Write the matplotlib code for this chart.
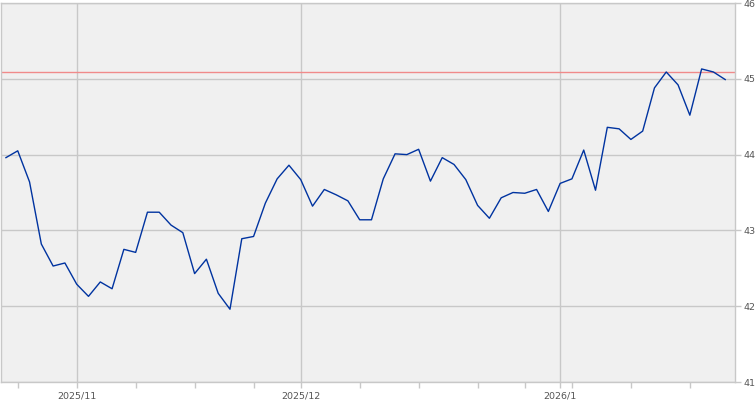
import matplotlib
matplotlib.use("Agg")
import matplotlib.pyplot as plt
import numpy as np
import pandas as pd

# trading days (US calendar) shown on the chart
holidays = ["2025-11-27", "2025-12-25", "2026-01-01", "2026-01-19"]
dates = pd.bdate_range("2025-10-24", "2026-01-23")
dates = dates[~dates.isin(pd.to_datetime(holidays))]

prices = [
    43.96, 44.05, 43.64, 42.82, 42.53, 42.57, 42.29, 42.13, 42.32, 42.23,
    42.75, 42.71, 43.24, 43.24, 43.07, 42.97, 42.43, 42.62, 42.17, 41.96,
    42.89, 42.92, 43.36, 43.68, 43.86, 43.67, 43.32, 43.54, 43.47, 43.39,
    43.14, 43.14, 43.68, 44.01, 44.00, 44.07, 43.65, 43.96, 43.87, 43.67,
    43.33, 43.16, 43.43, 43.50, 43.49, 43.54, 43.25, 43.62, 43.68, 44.06,
    43.53, 44.36, 44.34, 44.20, 44.31, 44.88, 45.09, 44.92, 44.52, 45.13,
    45.09, 44.99,
]
ref_level = 45.09
y_ticks = [41, 42, 43, 44, 45, 46]

x = np.arange(len(dates))
month_pos = [i for i in x if i > 0 and dates[i].month != dates[i - 1].month]
week_pos = [i for i in x if i > 0 and dates[i].isocalendar()[1] != dates[i - 1].isocalendar()[1]]
month_lbl = [f"{dates[i].year}/{dates[i].month}" for i in month_pos]

fig = plt.figure(figsize=(7.55, 4.0), dpi=100)
ax = fig.add_axes([1 / 755, 18 / 400, 734 / 755, 379 / 400])
ax.set_facecolor("#f0f0f0")

ax.plot(x, prices, color="#0033a0", lw=1.0, zorder=3)
ax.axhline(ref_level, color="#f08a8a", lw=1.0, zorder=2)

ax.set_xlim(-0.42, 61.83)
ax.set_ylim(41, 46)

ax.set_xticks(month_pos)
ax.set_xticklabels(month_lbl)
ax.set_xticks(week_pos, minor=True)
ax.set_yticks(y_ticks)
ax.yaxis.tick_right()

ax.grid(True, which="major", color="#c8c8c8", lw=1.0, zorder=1)
ax.set_axisbelow(True)

for s in ax.spines.values():
    s.set_color("#c8c8c8")
    s.set_linewidth(1.0)

ax.tick_params(axis="both", which="both", direction="out", length=4, width=1,
               color="#c8c8c8", labelcolor="#555555", labelsize=6.8)
ax.tick_params(axis="x", pad=3)
ax.tick_params(axis="y", pad=2)

fig.savefig("out.png", dpi=100)
